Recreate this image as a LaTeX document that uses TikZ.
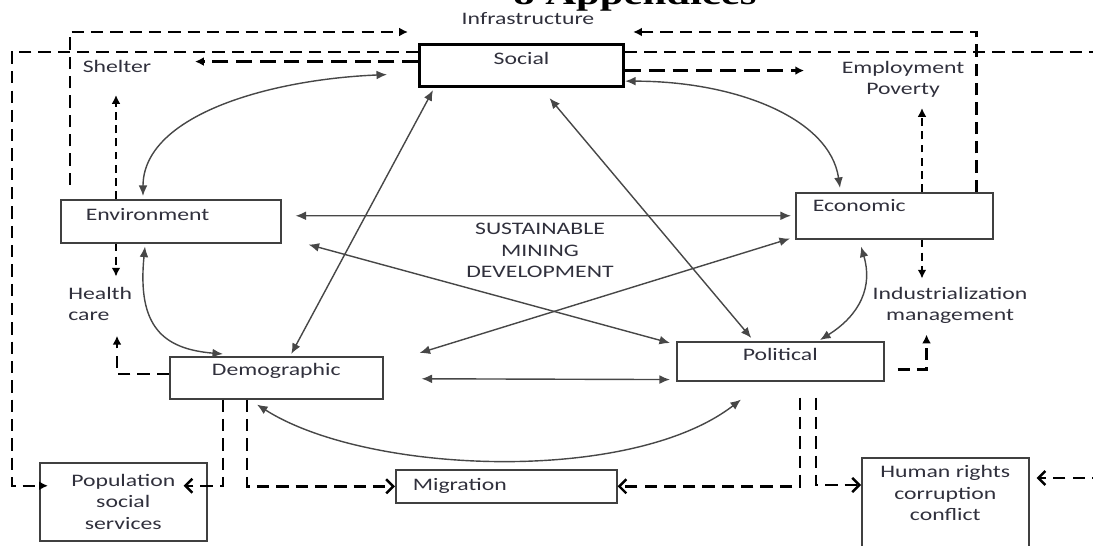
\documentclass[tikz,border=0pt]{standalone}
\usepackage{fontspec}
\setmainfont{Carlito}[FakeStretch=1.35]
\newfontfamily\headfont{Liberation Serif}[FakeStretch=1.35]
\usetikzlibrary{arrows.meta,calc}

\definecolor{labelgray}{HTML}{30303C}

\tikzset{
  lbl/.style={text=labelgray, font=\fontsize{10}{12.2}\selectfont, inner sep=0pt, align=center},
  box/.style={draw=black!75, line width=0.9pt, inner sep=0pt, anchor=north west,
    text=labelgray, font=\fontsize{10}{12.2}\selectfont},
  link/.style={draw=black!72, line width=0.8pt,
    {Latex[length=6pt,width=5pt]}-{Latex[length=6pt,width=5pt]}},
  dlink/.style={draw=black, line width=1.4pt, dash pattern=on 7pt off 4pt},
  hdash/.style={dash pattern=on 9pt off 4.5pt},
  vdash/.style={dash pattern=on 4.5pt off 3pt},
  solidhead/.style={-{Latex[length=5pt,width=5pt]}},
  openhead/.style={-{Straight Barb[length=4pt,width=8pt]}},
}

\begin{document}
\begin{tikzpicture}[x=0.02cm, y=-0.02cm]
\useasboundingbox (0,0) rectangle (1093,546);

% heading cut by the page edge
\node[anchor=base west, inner sep=0pt, font=\headfont\bfseries\fontsize{18}{20}\selectfont] (head) at (513,5) {8 Appendices};

% boxes
\node[box, draw=black, line width=1.8pt, minimum width=4.08cm, text height=0.40cm, text depth=0.44cm] (soc) at (418,43) {Social};
\node[box, text width=3.4cm, inner xsep=0.5cm, align=left, text height=0.41cm, text depth=0.45cm] (env) at (60,199) {Environment};
\node[box, text width=3.26cm, inner xsep=0.34cm, align=left, text height=0.37cm, text depth=0.55cm] (eco) at (795,192) {Economic};
\node[box, minimum width=4.26cm, text height=0.37cm, text depth=0.47cm] (dem) at (169,356) {Demographic};
\node[box, minimum width=4.14cm, text height=0.37cm, text depth=0.41cm] (pol) at (676,341) {Political};
\node[box, minimum width=3.34cm, minimum height=1.56cm, align=center] (pop) at (39,462) {Population\\social\\services};
\node[box, text width=3.74cm, inner xsep=0.34cm, align=left, text height=0.41cm, text depth=0.25cm] (mig) at (395,469) {Migration};
\node[box, minimum width=3.34cm, inner ysep=0.16cm, align=center] (hum) at (861,457) {Human rights\\corruption\\conflict\rule[-1.2cm]{0pt}{1.2cm}};

% free labels
\node[lbl, anchor=base] (infra) at (528,24.5) {Infrastructure};
\node[lbl, anchor=base] (shelter) at (117,72.5) {Shelter};
\node[lbl, anchor=north] (employ) at (903,61) {Employment\\Poverty};
\node[lbl, anchor=north west, align=left] (health) at (68,287) {Health\\care};
\node[lbl, anchor=north] (indus) at (950,287) {Industrialization\\management};
\node[lbl, anchor=north] (smd) at (540,223) {SUSTAINABLE\\MINING\\DEVELOPMENT};

% solid links
\draw[link] ($(soc.west)+(-31,9)$) .. controls +(-120,5) and +(0,-80) .. ($(env.north west)+(83,-3)$);
\draw[link] ($(soc.south east)+(0,-7)$) .. controls +(110,0) and +(-10,-70) .. ($(eco.north west)+(45,-4)$);
\draw[link] ($(env.east)+(14,-5.5)$) -- ($(eco.west)+(-4,0)$);
\draw[link] ($(env.south east)+(27,1)$) -- ($(pol.north west)+(-6,2)$);
\draw[link] ($(dem.north east)+(36,-3)$) -- ($(eco.south west)+(-5,-1)$);
\draw[link] ($(dem.east)+(38,1)$) -- ($(pol.south west)+(-6,-2)$);
\draw[link] ($(dem.north)+(15,-2)$) -- ($(soc.south west)+(15,2)$);
\draw[link] ($(soc.south)+(28,10)$) -- ($(pol.north)+(-29,-3)$);
\draw[link] ($(env.south west)+(85,3)$) .. controls +(-8,80) and +(-60,-5) .. ($(dem.north west)+(54,-2)$);
\draw[link] ($(eco.south west)+(66,7)$) .. controls +(12,40) and +(40,-25) .. ($(pol.north west)+(144,-1)$);
\draw[link] ($(dem.south west)+(88,5)$) .. controls +(110,70) and +(-110,85) .. ($(pol.south west)+(65,18)$);

% dashed links
\draw[dlink, vdash, solidhead] ($(env.north west)+(56,0)$) -- ++(0,-104);
\draw[dlink, vdash, solidhead] ($(env.south west)+(56,0)$) -- ++(0,33);
\draw[dlink, solidhead] ($(dem.west)+(0,-4)$) -- ++(-52,0) -- ++(0,-38);
\draw[dlink, vdash, solidhead] ($(eco.north west)+(127,0)$) -- ++(0,-84);
\draw[dlink, vdash, solidhead] ($(eco.south west)+(127,0)$) -- ++(0,39);
\draw[dlink, solidhead] ($(pol.south east)+(13,-12)$) -- ++(29,0) -- ++(0,-35);
\draw[dlink, openhead] ($(dem.south west)+(54,0)$) |- ($(pop.east)+(-24,-16)$);
\draw[dlink, openhead] ($(dem.south west)+(78,0)$) |- (mig.west);
\draw[dlink, openhead] ($(pol.south west)+(124,16)$) |- (mig.east);
\draw[dlink, openhead] ($(pol.south west)+(140,16)$) |- ($(hum.north west)+(0,28)$);
\draw[dlink, solidhead] ($(soc.north west)+(0,9)$) -| ($(pop.west)+(-27,-16)$) -- ($(pop.west)+(9,-16)$);
\draw[dlink, solidhead] ($(env.north west)+(10,-14)$) |- ($(soc.north west)+(-10,-11)$);
\draw[dlink, solidhead] ($(eco.north east)+(-17,0)$) |- ($(soc.north east)+(8,-11)$);
\draw[dlink, hdash, solidhead] ($(soc.west)+(0,-4)$) -- ++(-223,0);
\draw[dlink, hdash, solidhead] ($(soc.east)+(0,5)$) -- ++(179,0);
\draw[dlink, openhead] ($(soc.north east)+(0,9)$) -- ++(500,0) |- ($(hum.north east)+(7,21)$);
\end{tikzpicture}
\end{document}
